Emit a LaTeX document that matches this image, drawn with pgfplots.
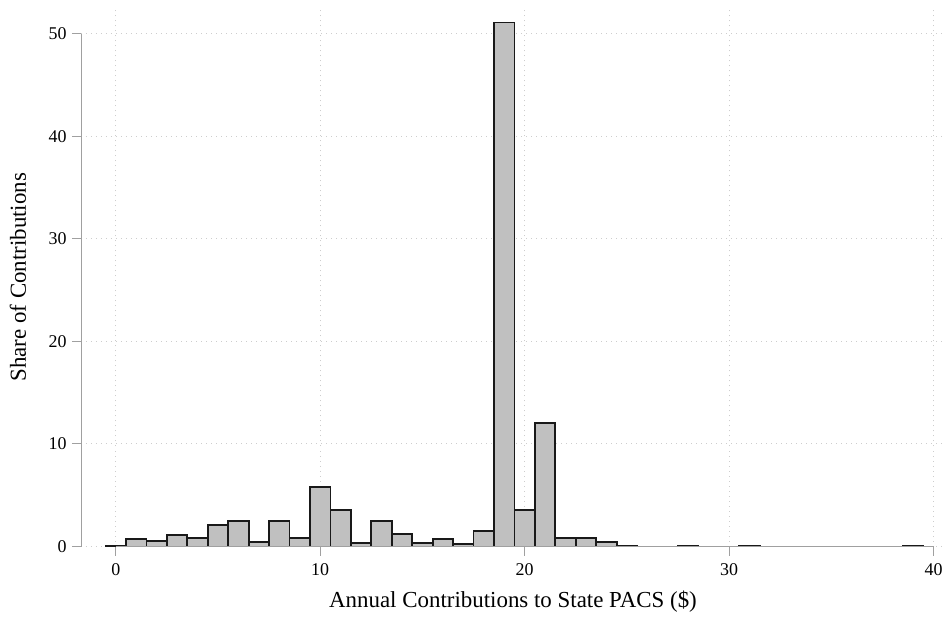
\documentclass[border=0pt]{standalone}
\usepackage{pgfplots}
\pgfplotsset{compat=1.18}
\usepackage{fontspec}
\setmainfont{Liberation Serif}

\definecolor{barfill}{RGB}{192,192,192}
\definecolor{baredge}{RGB}{25,25,25}
\definecolor{axisgray}{RGB}{160,160,160}
\definecolor{gridgray}{RGB}{205,205,205}

\begin{document}
\begin{tikzpicture}
\begin{axis}[
  scale only axis,
  width=864bp, height=538.5bp,
  xmin=-1.7, xmax=40.56,
  ymin=0, ymax=52.5,
  xtick={0,10,20,30,40},
  ytick={0,10,20,30,40,50},
  axis line style={draw=none},
  xtick pos=bottom, ytick pos=left,
  tick align=outside,
  major tick length=9bp,
  tick style={axisgray, line width=0.9bp},
  grid=major,
  major grid style={gridgray, line width=0.9bp, dash pattern=on 1bp off 4bp},
  /pgf/number format/assume math mode=true,
  ticklabel style={font=\fontsize{18}{21}\selectfont, text=black},
  xticklabel style={yshift=-5bp},
  yticklabel style={xshift=-2bp},
  xlabel={Annual Contributions to State PACS (\$)},
  ylabel={Share of Contributions},
  label style={font=\fontsize{23}{27}\selectfont},
  xlabel style={at={([yshift=-61bp]axis description cs:0.5,0)}, anchor=base},
  ylabel style={at={([xshift=-55bp]axis description cs:0,0.5)}, anchor=base},
  clip=false,
]
% histogram of contribution amounts, one-dollar bins centred on whole dollars
\addplot[ybar, bar width=1, fill=barfill, draw=baredge, line width=1.8bp]
  coordinates {
  (0,0.08) (1,0.70) (2,0.54) (3,1.15) (4,0.83) (5,2.07) (6,2.46) (7,0.41)
  (8,2.46) (9,0.83) (10,5.83) (11,3.53) (12,0.31) (13,2.51) (14,1.25)
  (15,0.34) (16,0.70) (17,0.24) (18,1.51) (19,51.09) (20,3.59) (21,12.04)
  (22,0.83) (23,0.80) (24,0.47) (25,0.10) (28,0.06) (31,0.06) (39,0.10)
  };
% axis lines spanning the labelled range
\draw[axisgray, line width=0.9bp] (axis cs:0,0) -- (axis cs:40,0);
\draw[axisgray, line width=0.9bp] (axis cs:-1.7,0) -- (axis cs:-1.7,50);
\end{axis}
\path[use as bounding box] (-81bp,-71.5bp) rectangle (865bp,546.5bp);
\end{tikzpicture}
\end{document}
